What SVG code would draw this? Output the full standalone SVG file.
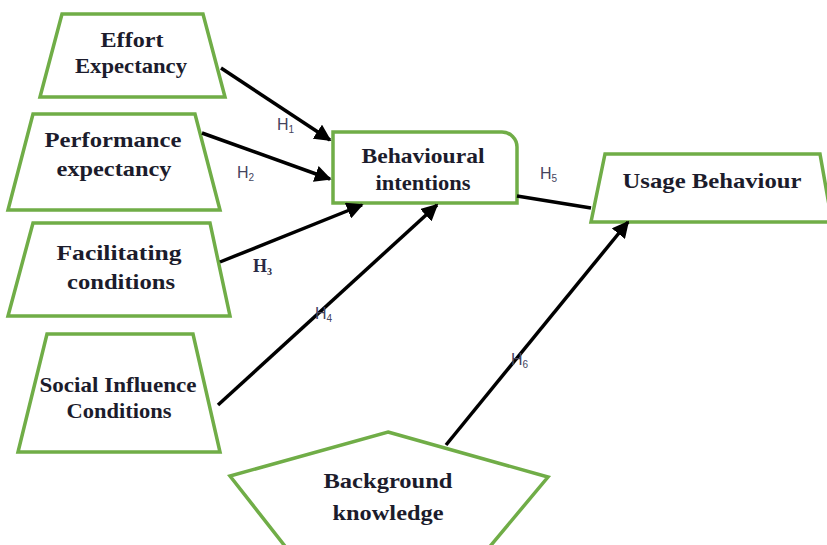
<svg xmlns="http://www.w3.org/2000/svg" width="827" height="545" viewBox="0 0 827 545">
<defs>
<style>
.n{fill:#fff;stroke:#70AD47;stroke-width:3.5;stroke-linejoin:miter}
.t{font-family:"Liberation Serif","Times New Roman",serif;font-weight:bold;font-size:22px;fill:#1c1c2c;text-anchor:middle}
.c{stroke:#000;stroke-width:3.5;fill:none}
.l{font-family:"Liberation Sans",Arial,sans-serif;font-size:16px;fill:#44445e}
.s{font-size:10px}
</style>
<marker id="ah" viewBox="0 0 10 10" refX="9" refY="5" markerWidth="4.8" markerHeight="4.8" orient="auto" markerUnits="strokeWidth">
<path d="M0,0 L10,5 L0,10 z" fill="#000"/>
</marker>
</defs>
<rect width="827" height="545" fill="#fff"/>
<g id="effort">
<polygon class="n" points="62,14 203,14 225,97 40,97"/>
<text class="t" x="132" y="47" textLength="63" lengthAdjust="spacingAndGlyphs">Effort</text>
<text class="t" x="131" y="73" textLength="112" lengthAdjust="spacingAndGlyphs">Expectancy</text>
</g>
<g id="performance">
<polygon class="n" points="33,114 195,114 220,210 8,210"/>
<text class="t" x="113" y="147" textLength="137" lengthAdjust="spacingAndGlyphs">Performance</text>
<text class="t" x="114" y="176" textLength="115" lengthAdjust="spacingAndGlyphs">expectancy</text>
</g>
<g id="facilitating">
<polygon class="n" points="33,223 210,223 230,316 8,316"/>
<text class="t" x="119" y="260" textLength="125" lengthAdjust="spacingAndGlyphs">Facilitating</text>
<text class="t" x="121" y="289" textLength="108" lengthAdjust="spacingAndGlyphs">conditions</text>
</g>
<g id="social">
<polygon class="n" points="47,334 193,334 220,452 18,452"/>
<text class="t" x="118" y="392" textLength="157" lengthAdjust="spacingAndGlyphs">Social Influence</text>
<text class="t" x="119" y="418" textLength="105" lengthAdjust="spacingAndGlyphs">Conditions</text>
</g>
<g id="behavioural">
<path class="n" d="M333,132 H502 A15,15 0 0 1 517,147 V203 H333 Z"/>
<text class="t" x="423" y="163" textLength="123" lengthAdjust="spacingAndGlyphs">Behavioural</text>
<text class="t" x="423" y="190" textLength="95" lengthAdjust="spacingAndGlyphs">intentions</text>
</g>
<g id="usage">
<polygon class="n" points="605,154 820,154 832,222 591,222"/>
<text class="t" x="712" y="188" textLength="179" lengthAdjust="spacingAndGlyphs">Usage Behaviour</text>
</g>
<g id="background">
<polygon class="n" points="388,432 548,477 487,550 288,550 230,476"/>
<text class="t" x="388" y="488" textLength="129" lengthAdjust="spacingAndGlyphs">Background</text>
<text class="t" x="388" y="520" textLength="111" lengthAdjust="spacingAndGlyphs">knowledge</text>
</g>
<g id="connectors">
<line class="c" x1="221" y1="68" x2="330" y2="140" marker-end="url(#ah)"/>
<line class="c" x1="202" y1="133" x2="330" y2="179" marker-end="url(#ah)"/>
<line class="c" x1="220" y1="262" x2="362" y2="205" marker-end="url(#ah)"/>
<line class="c" x1="218" y1="405" x2="437" y2="205" marker-end="url(#ah)"/>
<line class="c" x1="517" y1="196" x2="591" y2="208"/>
<line class="c" x1="446" y1="445" x2="628" y2="222" marker-end="url(#ah)"/>
</g>
<g id="labels">
<text class="l" x="277" y="130">H<tspan class="s" dy="3">1</tspan></text>
<text class="l" x="237" y="178">H<tspan class="s" dy="3">2</tspan></text>
<text x="253" y="272" style="font-family:'Liberation Serif','Times New Roman',serif;font-size:18px;font-weight:bold;fill:#2a2a44">H<tspan style="font-size:10px" dy="3">3</tspan></text>
<text class="l" x="315" y="319">H<tspan class="s" dy="3">4</tspan></text>
<text class="l" x="540" y="179">H<tspan class="s" dy="3">5</tspan></text>
<text class="l" x="511" y="365">H<tspan class="s" dy="3">6</tspan></text>
</g>
</svg>
